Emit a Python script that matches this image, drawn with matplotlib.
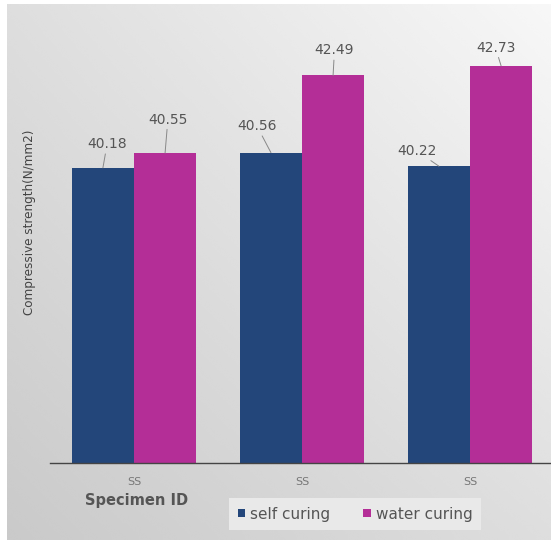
import numpy as np
import matplotlib.pyplot as plt

# compressive strength of the specimens, self curing vs water curing
specimens = ['SS', 'SS', 'SS']
self_curing = [40.18, 40.56, 40.22]
water_curing = [40.55, 42.49, 42.73]
series_names = ['self curing', 'water curing']

blue = '#23467a'
magenta = '#b42e97'
text_gray = '#555555'

W, H = 551, 540
fig = plt.figure(figsize=(W / 100, H / 100), dpi=100)

# soft gray gradient panel behind the chart
bg = fig.add_axes([7 / W, 0, 1 - 7 / W, 1 - 4 / H])
gx, gy = np.meshgrid(np.linspace(0, 1, 200), np.linspace(0, 1, 200))
shade = 0.79 + 0.10 * gx + 0.08 * (1 - gy) - 0.02 * (gx * gy)
bg.imshow(np.clip(shade, 0, 0.985), cmap='gray', vmin=0, vmax=1,
          aspect='auto', extent=[0, 1, 0, 1], interpolation='bicubic')
bg.axis('off')

ax = fig.add_axes([50 / W, (H - 463) / H, 504 / W, (463 - 15) / H])
ax.patch.set_alpha(0)

x = np.arange(len(specimens))
w = 0.37
b1 = ax.bar(x - w / 2, self_curing, w, color=blue, label=series_names[0])
b2 = ax.bar(x + w / 2, water_curing, w, color=magenta, label=series_names[1])

ax.set_xlim(-0.5, 2.5)
ax.set_ylim(32.8, 44)

# value labels with short leader lines
offsets_self = [(3, 12), (-10, 14), (-16, 6)]
offsets_water = [(2, 19), (1, 13), (-4, 8)]
for bars, vals, offs in [(b1, self_curing, offsets_self), (b2, water_curing, offsets_water)]:
    for bar, v, off in zip(bars, vals, offs):
        cx = bar.get_x() + bar.get_width() / 2
        ax.annotate(f'{v:.2f}', xy=(cx, v), xytext=off, textcoords='offset points',
                    ha='center', va='bottom', fontsize=10, color=text_gray,
                    arrowprops=dict(arrowstyle='-', color='#888888', lw=0.7,
                                    shrinkA=0, shrinkB=0))

ax.set_xticks(x)
ax.set_xticklabels(specimens, fontsize=8, color='#777777')
ax.tick_params(axis='x', length=0, pad=10)
ax.set_yticks([])
for s in ['left', 'top', 'right']:
    ax.spines[s].set_visible(False)
ax.spines['bottom'].set_color('#444444')
ax.spines['bottom'].set_linewidth(1.0)

fig.text(30 / W, 1 - 222 / H, 'Compressive strength(N/mm2)', rotation=90,
         ha='center', va='center', fontsize=9.5, color='#444444',
         family=['Liberation Sans Narrow', 'DejaVu Sans'], stretch='condensed')
fig.text(137 / W, 1 - 501 / H, 'Specimen ID', ha='center', va='center',
         fontsize=10.5, fontweight='bold', color=text_gray)

leg = fig.legend(loc='center', bbox_to_anchor=(355 / W, 1 - 514 / H), ncol=2,
                 frameon=True, fontsize=11, handlelength=0.5, handleheight=0.5,
                 handletextpad=0.3, columnspacing=2.2, borderpad=0.25)
leg.get_frame().set_facecolor('#e9e9e9')
leg.get_frame().set_edgecolor('none')
leg.get_frame().set_alpha(1)
leg.get_frame().set_boxstyle('square')
for t in leg.get_texts():
    t.set_color(text_gray)

fig.savefig('out.png', dpi=100)
